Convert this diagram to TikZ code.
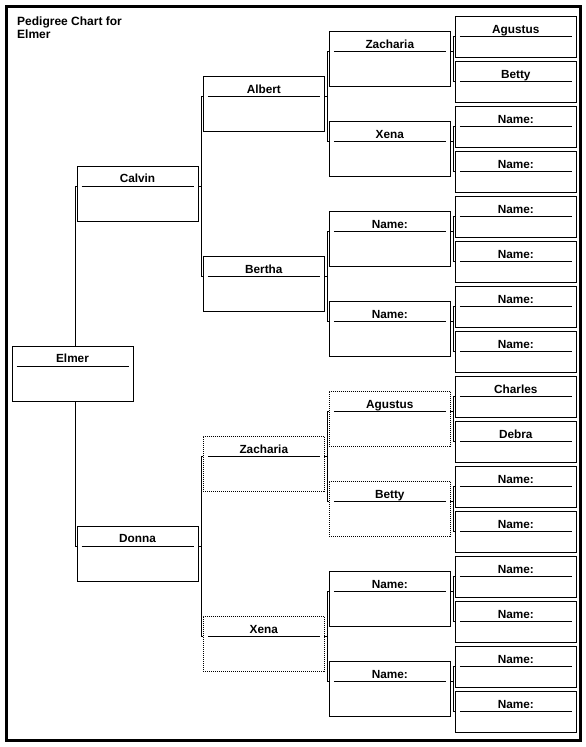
\documentclass[tikz,border=0pt]{standalone}
\usepackage{fontspec}
\setmainfont{Liberation Sans}
\usetikzlibrary{calc}
\tikzset{
  card/.style={draw, line width=0.9pt, rectangle, inner sep=0pt, outer sep=0pt, minimum width=121pt},
  dottedcard/.style={dash pattern=on 1pt off 1pt},
  solidcard/.style={},
  titleline/.style={line width=0.9pt},
  conn/.style={line width=0.9pt},
  lbl/.style={font=\fontsize{11.8}{13}\selectfont\bfseries, inner sep=0pt},
  frame/.style={line width=3pt},
}
\newcommand\famcard[6]{%
  \node[card,#6,minimum height=#4pt,anchor=north west] (#1) at (#2,#3) {};
  \coordinate (#1-L) at ([yshift=-20pt]#1.north west);
  \coordinate (#1-R) at ([yshift=-20pt]#1.north east);
  \draw[titleline] ([xshift=4.5pt]#1-L) -- ([xshift=-4.5pt]#1-R);
  \node[lbl,anchor=base] (#1-t) at ([yshift=-16.8pt]#1.north) {#5};
}
\newcommand\pairlink[3]{%
  \coordinate (#2-v) at ([xshift=-2pt]#2-L);
  \draw[conn] (#2-L) -- (#2-v) -- (#2-v |- #3-L) -- (#3-L);
  \draw[conn] (#1-R) -- (#1-R -| #2-v);
}
\begin{document}
\begin{tikzpicture}[x=1pt,y=-1pt]
\useasboundingbox (0,0) rectangle (586,747);
\draw[frame] (6.5,6.5) rectangle (580,740.5);
\node[font=\fontsize{12}{12.5}\selectfont\bfseries, align=left, anchor=north west, inner sep=0pt] (title) at (17,16.3) {Pedigree Chart for\\[0.6pt]Elmer};

% column 0
\famcard{e0}{12}{346}{55}{Elmer}{solidcard}
% column 1
\famcard{c1a}{77}{166}{55}{Calvin}{solidcard}
\famcard{c1b}{77}{526}{55}{Donna}{solidcard}
% column 2
\famcard{c2a}{203.3}{76.3}{55}{Albert}{solidcard}
\famcard{c2b}{203.3}{256.3}{55}{Bertha}{solidcard}
\famcard{c2c}{203.3}{436.3}{55}{Zacharia}{dottedcard}
\famcard{c2d}{203.3}{616.3}{55}{Xena}{dottedcard}
% column 3
\famcard{c3a}{329.3}{31.3}{55}{Zacharia}{solidcard}
\famcard{c3b}{329.3}{121.3}{55}{Xena}{solidcard}
\famcard{c3c}{329.3}{211.3}{55}{Name:}{solidcard}
\famcard{c3d}{329.3}{301.3}{55}{Name:}{solidcard}
\famcard{c3e}{329.3}{391.3}{55}{Agustus}{dottedcard}
\famcard{c3f}{329.3}{481.3}{55}{Betty}{dottedcard}
\famcard{c3g}{329.3}{571.3}{55}{Name:}{solidcard}
\famcard{c3h}{329.3}{661.3}{55}{Name:}{solidcard}
% column 4
\famcard{c4a}{455.3}{16.3}{41}{Agustus}{solidcard}
\famcard{c4b}{455.3}{61.3}{41}{Betty}{solidcard}
\famcard{c4c}{455.3}{106.3}{41}{Name:}{solidcard}
\famcard{c4d}{455.3}{151.3}{41}{Name:}{solidcard}
\famcard{c4e}{455.3}{196.3}{41}{Name:}{solidcard}
\famcard{c4f}{455.3}{241.3}{41}{Name:}{solidcard}
\famcard{c4g}{455.3}{286.3}{41}{Name:}{solidcard}
\famcard{c4h}{455.3}{331.3}{41}{Name:}{solidcard}
\famcard{c4i}{455.3}{376.3}{41}{Charles}{solidcard}
\famcard{c4j}{455.3}{421.3}{41}{Debra}{solidcard}
\famcard{c4k}{455.3}{466.3}{41}{Name:}{solidcard}
\famcard{c4l}{455.3}{511.3}{41}{Name:}{solidcard}
\famcard{c4m}{455.3}{556.3}{41}{Name:}{solidcard}
\famcard{c4n}{455.3}{601.3}{41}{Name:}{solidcard}
\famcard{c4o}{455.3}{646.3}{41}{Name:}{solidcard}
\famcard{c4p}{455.3}{691.3}{41}{Name:}{solidcard}

% Elmer to parents
\coordinate (e0v) at ([xshift=-1.6pt]c1a-L);
\draw[conn] (c1a-L) -- (e0v) -- (e0v |- e0.north);
\coordinate (e0w) at ([xshift=-1.6pt]c1b-L);
\draw[conn] (c1b-L) -- (e0w) -- (e0w |- e0.south);

\pairlink{c1a}{c2a}{c2b}
\pairlink{c1b}{c2c}{c2d}
\pairlink{c2a}{c3a}{c3b}
\pairlink{c2b}{c3c}{c3d}
\pairlink{c2c}{c3e}{c3f}
\pairlink{c2d}{c3g}{c3h}
\pairlink{c3a}{c4a}{c4b}
\pairlink{c3b}{c4c}{c4d}
\pairlink{c3c}{c4e}{c4f}
\pairlink{c3d}{c4g}{c4h}
\pairlink{c3e}{c4i}{c4j}
\pairlink{c3f}{c4k}{c4l}
\pairlink{c3g}{c4m}{c4n}
\pairlink{c3h}{c4o}{c4p}
\end{tikzpicture}
\end{document}
